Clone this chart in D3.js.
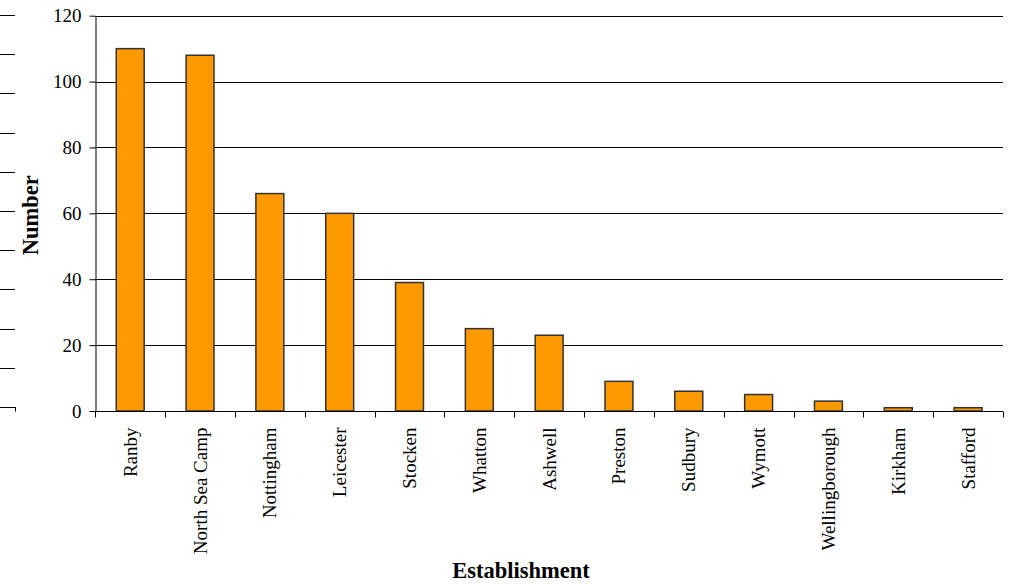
<!DOCTYPE html>
<html>
<head>
<meta charset="utf-8">
<script src="https://cdn.jsdelivr.net/npm/d3@7"></script>
<style>
  body { margin: 0; background: #fff; }
  svg { display: block; font-family: "Liberation Serif", "Times New Roman", serif; }
</style>
</head>
<body>
<svg id="chart" width="1011" height="584"></svg>
<script>
const categories = ["Ranby", "North Sea Camp", "Nottingham", "Leicester", "Stocken", "Whatton", "Ashwell", "Preston", "Sudbury", "Wymott", "Wellingborough", "Kirkham", "Stafford"];
const values = [110, 108, 66, 60, 39, 25, 23, 9, 6, 5, 3, 1, 1];
const yTicks = [0, 20, 40, 60, 80, 100, 120];
const ghostTicks = d3.range(0, 11);

(function () {
const svg = d3.select("#chart");
const mLeft = 95.3, mRight = 1003, mTop = 15.7, mBottom = 411;
const FONT = '"Liberation Serif", "Times New Roman", serif';

const x = d3.scaleBand().domain(categories).range([mLeft, mRight]).paddingInner(0).paddingOuter(0);
const y = d3.scaleLinear().domain([0, 120]).range([mBottom, mTop]);
const g = d3.scaleLinear().domain([0, 10]).range([15, 407]);

// ghost ticks at far left
svg.append("g").selectAll("line").data(ghostTicks).join("line")
  .attr("x1", 0).attr("x2", 15)
  .attr("y1", d => Math.round(g(d)) + 0.5).attr("y2", d => Math.round(g(d)) + 0.5)
  .attr("stroke", "#000").attr("stroke-width", 1);
svg.append("line").attr("x1", 15.5).attr("x2", 15.5).attr("y1", 407).attr("y2", 411.5)
  .attr("stroke", "#000");

// gridlines
svg.append("g").selectAll("line").data(yTicks.filter(d => d > 0)).join("line")
  .attr("x1", mLeft).attr("x2", mRight)
  .attr("y1", d => Math.round(y(d)) + 0.5).attr("y2", d => Math.round(y(d)) + 0.5)
  .attr("stroke", "#000").attr("stroke-width", 1);

// bars
const bw = x.bandwidth() * 0.4;
svg.append("g").selectAll("rect").data(values).join("rect")
  .attr("x", (d, i) => x(categories[i]) + (x.bandwidth() - bw) / 2)
  .attr("y", d => y(d))
  .attr("width", bw)
  .attr("height", d => y(0) - y(d))
  .attr("fill", "#FF9900")
  .attr("stroke", "#333333")
  .attr("stroke-width", 1.5);

// y axis
const yAxis = d3.axisLeft(y).tickValues(yTicks).tickSize(6).tickPadding(8).tickSizeOuter(0);
const ya = svg.append("g").attr("transform", `translate(${Math.round(mLeft) + 0.5},0)`).call(yAxis);
ya.attr("font-family", null).attr("font-size", null);
ya.select(".domain").attr("stroke", "#000");
ya.selectAll("text").attr("font-size", 19).attr("font-family", FONT).attr("fill", "#000");

// x axis
const xa = svg.append("g").attr("transform", `translate(0,${Math.round(mBottom) + 0.5})`);
xa.append("line").attr("x1", mLeft).attr("x2", mRight).attr("stroke", "#000");
const bounds = categories.map(c => x(c)).concat([mRight]);
xa.selectAll("line.tk").data(bounds).join("line").attr("class", "tk")
  .attr("x1", d => Math.round(d) + 0.5).attr("x2", d => Math.round(d) + 0.5)
  .attr("y1", 0).attr("y2", 6).attr("stroke", "#000");
xa.selectAll("text").data(categories).join("text")
  .attr("transform", d => `translate(${x(d) + x.bandwidth() / 2 + 6.5},16) rotate(-90)`)
  .attr("text-anchor", "end")
  .attr("font-size", 19)
  .attr("font-family", FONT)
  .attr("fill", "#000")
  .text(d => d);

// axis titles
svg.append("text")
  .attr("transform", `translate(38,${(mTop + mBottom) / 2 + 2}) rotate(-90)`)
  .attr("text-anchor", "middle")
  .attr("font-family", FONT)
  .attr("font-size", 22.5).attr("font-weight", "bold")
  .text("Number");
svg.append("text")
  .attr("x", 521).attr("y", 578)
  .attr("text-anchor", "middle")
  .attr("font-family", FONT)
  .attr("font-size", 22.5).attr("font-weight", "bold")
  .text("Establishment");
})();
</script>
</body>
</html>
